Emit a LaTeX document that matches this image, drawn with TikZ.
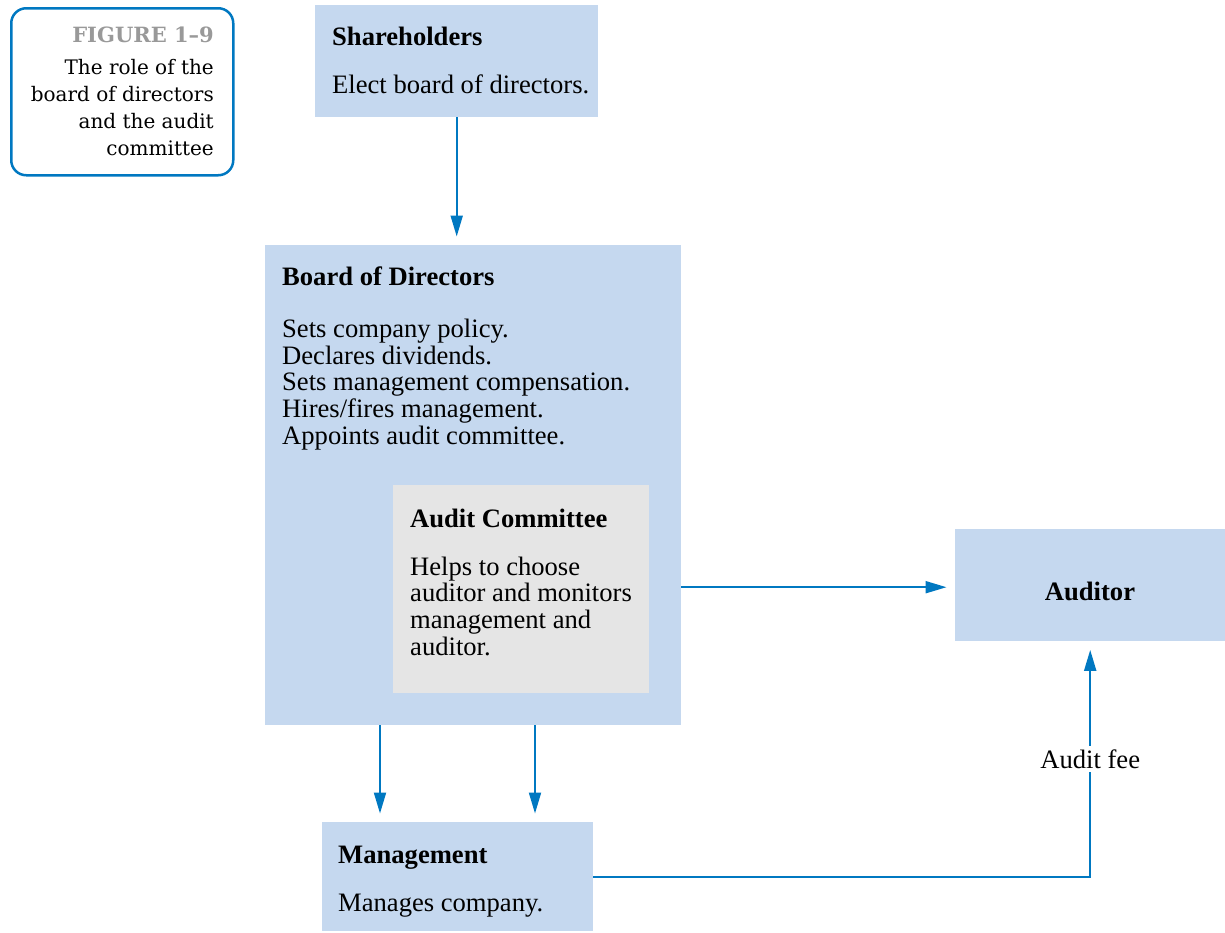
\documentclass[tikz,border=0pt]{standalone}
\usepackage{fontspec}
\setmainfont{Liberation Serif}
\newfontfamily\capfont{DejaVu Serif}
\usepackage{tikz}
\usetikzlibrary{arrows.meta, positioning}

\definecolor{boxblue}{RGB}{197,216,239}
\definecolor{boxgray}{RGB}{229,229,229}
\definecolor{linkblue}{RGB}{0,120,193}
\newcommand{\bodyfont}{\fontsize{26.6pt}{26.7pt}\selectfont}
\newcommand{\capsize}{\fontsize{20pt}{26.7pt}\selectfont}

\begin{document}
\begin{tikzpicture}[x=1pt, y=-1pt,
  box/.style={fill=boxblue, inner sep=0pt, anchor=north west},
  txt/.style={anchor=base west, inner sep=0pt, font=\bodyfont},
  ttl/.style={txt, font=\bodyfont\bfseries},
  arr/.style={-{Triangle[length=21pt, width=12pt]}, linkblue, line width=2pt, shorten >=8.5pt}]
  \useasboundingbox (0,0) rectangle (1225,932);

  % 图注框（多行文字以末行基线定位）
  \node[draw=linkblue, line width=2.5pt, rounded corners=15pt, anchor=north west,
        minimum width=222pt, minimum height=167pt] (fig) at (10,7) {};
  \node[anchor=base east, inner sep=0pt, font=\capfont\fontsize{21pt}{26.7pt}\selectfont\bfseries, text=black!40] (figT) at (214,42) {FIGURE 1\textendash 9};
  \node[anchor=base east, inner sep=0pt, align=right, font=\capfont\capsize] (figB) at (214,155)
    {The role of the\\board of directors\\and the audit\\committee};

  % 绘制方框
  \node[box, minimum width=283pt, minimum height=112pt] (sh) at (315,5) {};
  \node[box, minimum width=416pt, minimum height=480pt] (bd) at (265,245) {};
  \node[box, fill=boxgray, minimum width=256pt, minimum height=208pt] (ac) at (393,485) {};
  \node[box, minimum width=270pt, minimum height=112pt] (au) at (955,529) {};
  \node[box, minimum width=271pt, minimum height=109pt] (mg) at (322,822) {};

  % 方框文字
  \node[ttl] (shT) at (332,45) {Shareholders};
  \node[txt] (shB) at (332,93) {Elect board of directors.};
  \node[ttl] (bdT) at (282,285) {Board of Directors};
  \node[txt, align=left] (bdB) at (282,444.3)
    {Sets company policy.\\Declares dividends.\\Sets management compensation.\\Hires/fires management.\\Appoints audit committee.};
  \node[ttl] (acT) at (410,527) {Audit Committee};
  \node[txt, align=left] (acB) at (410,655.1)
    {Helps to choose\\auditor and monitors\\management and\\auditor.};
  \node[ttl, anchor=base] (auT) at (1090,600) {Auditor};
  \node[ttl] (mgT) at (338,863) {Management};
  \node[txt] (mgB) at (338,911.5) {Manages company.};

  % 绘制箭头
  \draw[arr] (sh.south) -- (sh.south |- bd.north);
  \draw[arr] ([yshift=-2pt]bd.east |- au.west) -- ([yshift=-2pt]au.west);
  \foreach \x in {380,535} {
    \coordinate (m\x) at (\x,725);
    \draw[arr] (m\x) -- (m\x |- mg.north);
  }
  \draw[arr] (mg.east) -| (au.south)
    node[pos=0.75, fill=white, text=black, font=\bodyfont] (fee) {Audit fee};
\end{tikzpicture}
\end{document}
